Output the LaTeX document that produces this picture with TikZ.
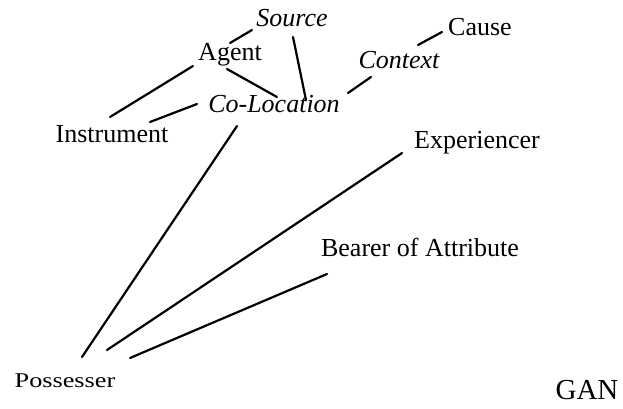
\documentclass[tikz,border=0pt]{standalone}
\usepackage{fontspec}
\setmainfont{Liberation Serif}
\usetikzlibrary{calc}
\begin{document}
\begin{tikzpicture}[x=1pt,y=-1pt,
  lbl/.style={anchor=base,inner sep=0pt,font=\fontsize{26}{30}\selectfont},
  ilbl/.style={lbl,font=\fontsize{26}{30}\selectfont\itshape},
  link/.style={line width=2.2pt,line cap=round,black}]
\useasboundingbox[fill=white] (0,0) rectangle (623,408);
\node[ilbl] (src)   at (292,26)  {Source};
\node[lbl]  (agent) at (230,60)  {Agent};
\node[lbl]  (cause) at (480,35)  {Cause};
\node[ilbl] (ctx)   at (399,68)  {Context};
\node[ilbl] (col)   at (274,112) {Co-Location};
\node[lbl]  (instr) at (112,142) {Instrument};
\node[lbl]  (exp)   at (477,148) {Experiencer};
\node[lbl]  (bear)  at (420,256) {Bearer of Attribute};
\node[lbl,font=\fontsize{21}{25}\selectfont] (poss) at (65,387) {\scalebox{1.25}[1]{Possesser}};
\node[lbl,font=\fontsize{29}{33}\selectfont] (gan) at (587,399) {GAN};
\draw[link] ($(src.base)+(-40,4)$) -- ($(agent.base)+(0,-17)$);
\draw[link] ($(src.base)+(1,11)$) -- ($(col.base)+(32,-12)$);
\draw[link] ($(agent.base)+(-37,6)$) -- ($(instr.base)+(-2,-25)$);
\draw[link] ($(agent.base)+(-3,9)$) -- ($(col.base)+(3,-15)$);
\draw[link] ($(col.base)+(-77,-8)$) -- ($(instr.base)+(38,-20)$);
\draw[link] ($(col.base)+(74,-19)$) -- ($(ctx.base)+(-28,9)$);
\draw[link] ($(ctx.base)+(19,-23)$) -- ($(cause.base)+(-38,-3)$);
\draw[link] ($(col.base)+(-37,14)$) -- ($(poss.base)+(17,-30)$);
\draw[link] ($(exp.base)+(-75,5)$) -- ($(poss.base)+(42,-37)$);
\draw[link] ($(bear.base)+(-93,18)$) -- ($(poss.base)+(65,-29)$);
\end{tikzpicture}
\end{document}
